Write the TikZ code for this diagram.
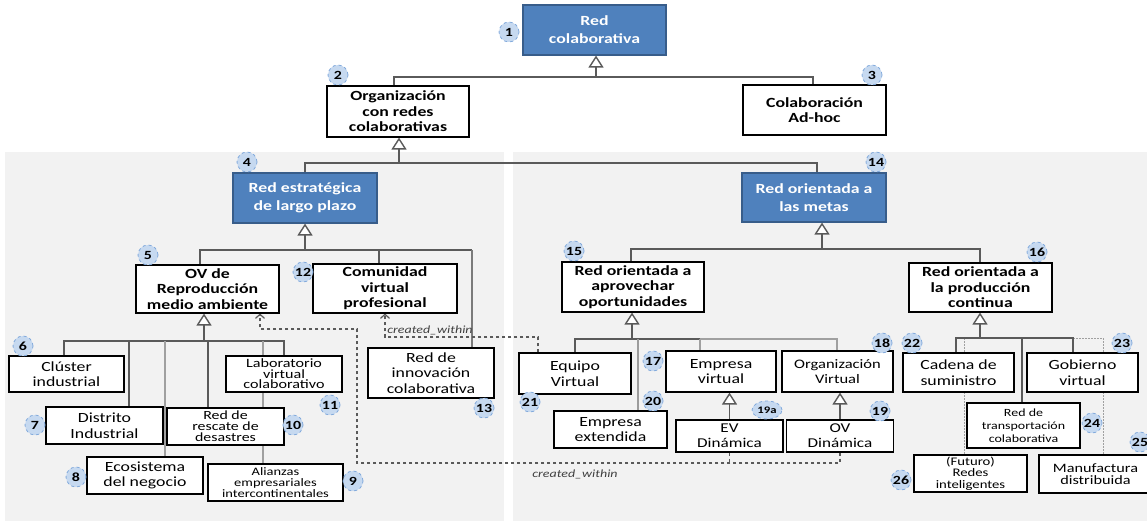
\documentclass[tikz,border=0pt]{standalone}
\usepackage{fontspec}
\setmainfont{Carlito}[FakeStretch=1.27]
\usetikzlibrary{arrows.meta,shapes.geometric}
\pgfdeclarelayer{bg}
\pgfdeclarelayer{mid}
\pgfsetlayers{bg,mid,main}
\definecolor{panel}{RGB}{242,242,242}
\definecolor{nblue}{RGB}{79,129,189}
\definecolor{nblueb}{RGB}{56,93,138}
\definecolor{ldark}{RGB}{90,90,90}
\definecolor{llight}{RGB}{160,160,160}
\definecolor{bfill}{RGB}{198,217,240}
\definecolor{bline}{RGB}{130,170,220}
\definecolor{cwtext}{RGB}{64,64,64}
\tikzset{
  sz/.style 2 args={minimum width=#1, minimum height=#2},
  box/.style={draw=black, line width=1.1pt, fill=white, align=center, inner sep=0pt,
    font=\fontsize{14}{15.5}\selectfont},
  bbox/.style={box, font=\bfseries\fontsize{14}{15.5}\selectfont},
  bluebox/.style={box, fill=nblue, draw=nblueb, text=white,
    font=\bfseries\fontsize{14}{18}\selectfont},
  badge/.style={circle, fill=bfill, draw=bline, dashed, line width=0.8pt, inner sep=0pt,
    minimum size=20pt, font=\bfseries\fontsize{12.5}{12.5}\selectfont},
  conn/.style={draw=ldark, line width=1.4pt},
  connl/.style={draw=llight, line width=1.4pt},
  dotc/.style={draw=llight, line width=1pt, dash pattern=on 1.5pt off 1.5pt},
  tri/.style={-{Triangle[length=12pt,width=15pt,fill=white]}},
  cw/.style={draw=ldark, line width=1.2pt, dash pattern=on 3.5pt off 2.5pt},
  cwarrow/.style={-{Straight Barb[length=4pt,width=9pt]}},
  cwlabel/.style={font=\itshape\fontsize{11}{11}\selectfont, text=cwtext, inner sep=0pt}
}
\begin{document}
\begin{tikzpicture}[x=1pt,y=-1pt]
\useasboundingbox (0,0) rectangle (1147,521);
\begin{pgfonlayer}{bg}
  \fill[panel] (5,152) rectangle (504,521);
  \fill[panel] (513,152) rectangle (1147,521);
\end{pgfonlayer}

% ---------- nodes ----------
\node[bluebox, sz={143}{50}] (n1) at (594.5,30) {Red\\colaborativa};
\node[bbox, sz={142}{51}] (n2) at (398,111.5) {Organización\\con redes\\colaborativas};
\node[bbox, sz={143}{50}] (n3) at (814.5,110) {Colaboración\\Ad-hoc};
\node[bluebox, sz={144}{50}] (n4) at (305,198) {Red estratégica\\de largo plazo};
\node[bluebox, sz={144}{49}] (n14) at (814,197.5) {Red orientada a\\las metas};
\node[bbox, sz={143}{48}] (n5) at (207.5,289) {OV de\\Reproducción\\medio ambiente};
\node[bbox, sz={144}{49}] (n12) at (385,288.5) {Comunidad\\virtual\\profesional};
\node[box, sz={126}{50}] (n13) at (431,373) {Red de\\innovación\\colaborativa};
\node[box, sz={115}{36}] (n6) at (66.5,374) {Clúster\\industrial};
\node[box, sz={116}{36}, font=\fontsize{12.7}{10.5}\selectfont] (n11) at (284,374) {Laboratorio\\virtual\\colaborativo};
\node[box, sz={117}{37}] (n7) at (104.5,425.5) {Distrito\\Industrial};
\node[box, sz={117}{37}, font=\fontsize{12.5}{11}\selectfont] (n10) at (225.5,426.5) {Red de\\rescate de\\desastres};
\node[box, sz={116}{37}] (n8) at (145,475.5) {Ecosistema\\del negocio};
\node[box, sz={135}{37}, font=\fontsize{11.4}{11}\selectfont] (n9) at (275.5,482.5) {Alianzas\\empresariales\\intercontinentales};

\node[bbox, sz={142}{50}] (n15) at (633,287) {Red orientada a\\aprovechar\\oportunidades};
\node[bbox, sz={143}{49}] (n16) at (980.5,287.5) {Red orientada a\\la producción\\continua};
\node[box, sz={112}{41}] (n21) at (575,373.5) {Equipo\\Virtual};
\node[box, sz={113}{37}] (n20) at (610.5,429.5) {Empresa\\extendida};
\node[box, sz={110}{41}] (n17) at (721,371.5) {Empresa\\virtual};
\node[box, sz={111}{41}, font=\fontsize{13}{15.5}\selectfont] (n18) at (837.5,371.5) {Organización\\Virtual};
\node[box, sz={107}{32}, font=\fontsize{13.5}{15}\selectfont] (n19a) at (729.5,436) {EV\\Dinámica};
\node[box, sz={107}{32}, font=\fontsize{13.5}{15}\selectfont] (n19) at (840,436) {OV\\Dinámica};
\node[box, sz={111}{39}] (n22) at (958.5,372.5) {Cadena de\\suministro};
\node[box, sz={111}{39}] (n23) at (1082.5,372.5) {Gobierno\\virtual};
\node[box, sz={113}{45}, font=\fontsize{11}{13}\selectfont] (n24) at (1023.5,425.5) {Red de\\transportación\\colaborativa};
\node[box, sz={113}{37}, font=\fontsize{11.6}{11.5}\selectfont] (n26) at (970.5,473.5) {(Futuro)\\Redes\\inteligentes};
\node[box, sz={113}{38}, font=\fontsize{12.8}{12.5}\selectfont] (n25) at (1095.5,474) {Manufactura\\distribuida};

% ---------- badges ----------
\node[badge] (c1) at (509,32) {1};
\node[badge] (c2) at (338,75) {2};
\node[badge] (c3) at (872,75) {3};
\node[badge] (c4) at (247,162) {4};
\node[badge] (c14) at (876,162) {14};
\node[badge] (c5) at (148,255) {5};
\node[badge] (c12) at (303,272) {12};
\node[badge] (c13) at (484,408) {13};
\node[badge] (c6) at (23,346) {6};
\node[badge] (c11) at (330,405) {11};
\node[badge] (c7) at (35,425) {7};
\node[badge] (c10) at (293,425) {10};
\node[badge] (c8) at (76,477) {8};
\node[badge] (c9) at (353,481) {9};
\node[badge] (c15) at (574,251) {15};
\node[badge] (c16) at (1037,252) {16};
\node[badge] (c21) at (530,402) {21};
\node[badge] (c20) at (653,401) {20};
\node[badge] (c17) at (653,361) {17};
\node[badge] (c18) at (882,343) {18};
\node[badge, ellipse, minimum width=30pt, minimum height=18pt, font=\bfseries\fontsize{10}{10}\selectfont] (c19a) at (767,410) {19a};
\node[badge] (c19) at (880,411) {19};
\node[badge] (c22) at (912,343) {22};
\node[badge] (c23) at (1122,343) {23};
\node[badge] (c24) at (1092,423) {24};
\node[badge] (c26) at (901,480) {26};
\node[badge] (c25) at (1140,442) {25};

% ---------- connectors ----------
\begin{pgfonlayer}{mid}
% n1 group
\coordinate (a1) at (596,77);
\coordinate (d2) at (394,77);
\coordinate (d3) at (813,77);
\draw[conn] (d2 |- n2.north) -- (d2) -- (d3) -- (d3 |- n3.north);
\draw[conn,tri] (a1) -- (a1 |- n1.south);
% n2 group
\coordinate (a2) at (399,163);
\coordinate (d4) at (305,163);
\coordinate (d14) at (817,163);
\draw[conn] (d4 |- n4.north) -- (d4) -- (d14) -- (d14 |- n14.north);
\draw[conn,tri] (a2) -- (a2 |- n2.south);
% n4 group
\coordinate (a4) at (305,250);
\coordinate (d5) at (200,250);
\coordinate (d12) at (379,250);
\coordinate (d13) at (472,250);
\draw[conn] (d5 |- n5.north) -- (d5) -- (d13);
\draw[conn] (d12) -- (d12 |- n12.north);
\draw[conn, draw=ldark!80] (d13) -- (d13 |- n13.north);
\draw[conn,tri] (a4) -- (a4 |- n4.south);
% n14 group
\coordinate (a14) at (822,249);
\coordinate (d15) at (631,249);
\coordinate (d16) at (980,249);
\draw[conn] (d15 |- n15.north) -- (d15) -- (d16) -- (d16 |- n16.north);
\draw[conn,tri] (a14) -- (a14 |- n14.south);
% n5 group
\coordinate (a5) at (204,341);
\coordinate (d6) at (64,341);
\coordinate (d7) at (129,341);
\coordinate (d8) at (165,341);
\coordinate (d10) at (208,341);
\coordinate (d9) at (263,341);
\coordinate (d11) at (284,341);
\draw[conn] (d6 |- n6.north) -- (d6) -- (d11) -- (d11 |- n11.north);
\draw[conn] (d7) -- (d7 |- n7.north);
\draw[connl] (d8) -- (d8 |- n8.north);
\draw[conn] (d10) -- (d10 |- n10.north);
\draw[connl] (d9) -- (d9 |- n9.north);
\draw[conn,tri] (a5) -- (a5 |- n5.south);
% n15 group
\coordinate (a15) at (632,339);
\coordinate (d21) at (575,339);
\coordinate (d20) at (638,339);
\coordinate (d17) at (700,339);
\coordinate (d18) at (837,339);
\draw[conn] (d21 |- n21.north) -- (d21) -- (d17);
\draw[connl] (d17) -- (d18) -- (d18 |- n18.north);
\draw[connl] (d17) -- (d17 |- n17.north);
\draw[connl, draw=ldark!60] (d20) -- (d20 |- n20.north);
\draw[conn,tri] (a15) -- (a15 |- n15.south);
% n16 group
\coordinate (a16) at (980,338);
\coordinate (d22) at (956,338);
\coordinate (d24) at (1022,338);
\coordinate (d23) at (1073,338);
\coordinate (d26) at (964,338);
\coordinate (d25) at (1103,338);
\draw[dotc] (d26) -- (d26 |- n26.north);
\draw[dotc] (d23) -- (d25) -- (d25 |- n25.north);
\draw[conn] (d22 |- n22.north) -- (d22) -- (d23) -- (d23 |- n23.north);
\draw[conn] (d24) -- (d24 |- n24.north);
\draw[conn,tri] (a16) -- (a16 |- n16.south);
% dynamic specialisations
\draw[conn,tri] (n19a.north) -- (n19a.north |- n17.south);
\draw[conn,tri] (n19.north) -- (n19.north |- n18.south);
% created_within
\coordinate (k1) at (538,337);
\draw[cw,cwarrow] (k1 |- n21.north) -- (k1) -| (n12.south);
\coordinate (k2) at (357,463);
\coordinate (k3) at (260,329);
\draw[cw,cwarrow] (n19.south) |- (k2) -- (k2 |- k3) -- (k3) -- (k3 |- n5.south);
\draw[cw] (n19a.south) -- (n19a.south |- k2);
\end{pgfonlayer}
\node[cwlabel] (L1) at (430,330) {created\_within};
\node[cwlabel] (L2) at (575,474) {created\_within};
\end{tikzpicture}
\end{document}
